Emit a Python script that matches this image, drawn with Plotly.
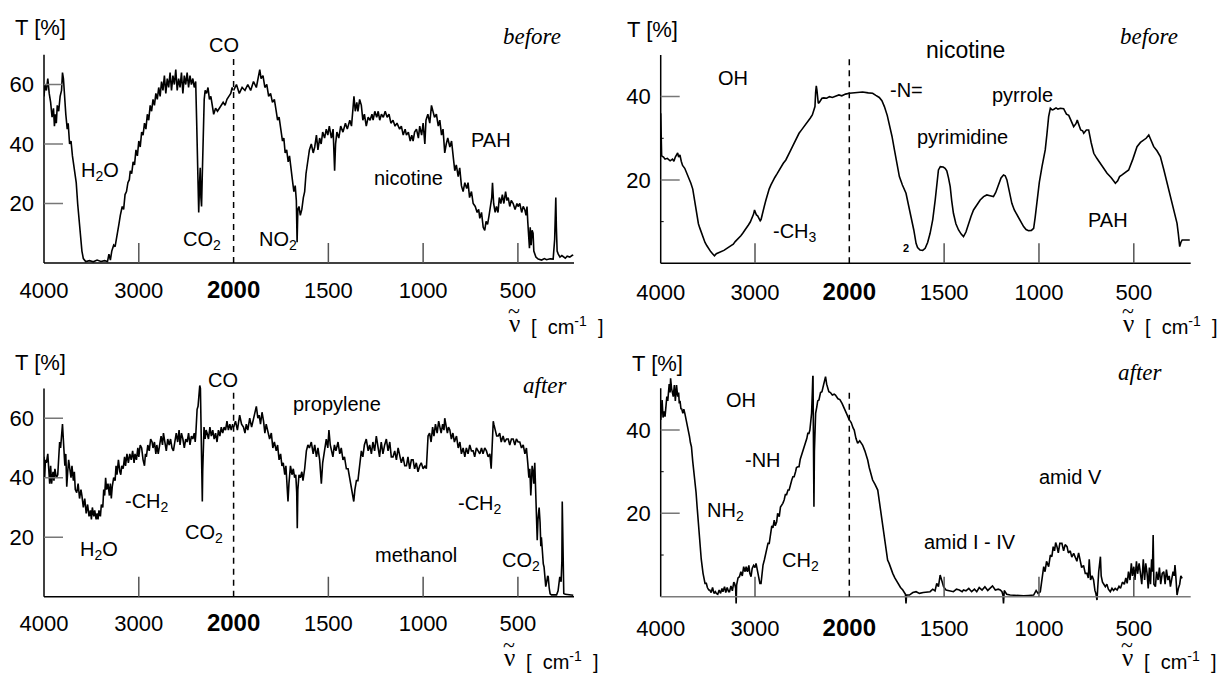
import plotly.graph_objects as go

# ---------------- data: (wavenumber cm-1, transmittance %) ----------------
before_blood_spectrum = [
(4000,56),(3990,60),(3975,58),(3960,62),(3945,57),(3930,54),(3915,49),(3900,52),(3890,46),(3880,50),(3870,47),(3860,53),
(3845,51),(3830,56),(3815,58),(3805,64),(3795,62),(3785,55),(3770,50),(3755,45),(3745,47),(3730,40),(3715,41),(3700,36),
(3680,31),(3660,27),(3645,20),(3630,14),(3615,8),(3600,4),(3585,1.5),(3560,0.5),(3520,0.8),(3480,0.4),(3440,1),(3400,0.5),
(3360,0.8),(3330,0.5),(3315,3),(3300,1),(3285,4),(3265,6),(3250,5.5),(3230,10),(3210,13),(3195,16),(3175,19),(3160,18),
(3145,23),(3130,24),(3115,27),(3100,28),(3090,31),(3075,30),(3060,34),(3045,33),(3030,38),(3015,36),(3000,41),(2985,39),
(2970,44),(2955,43),(2940,47),(2925,45),(2910,50),(2895,48),(2880,53),(2865,51),(2850,55),(2835,53),(2820,57),(2805,55),
(2790,59),(2775,56),(2760,61),(2745,58),(2730,63),(2715,57),(2700,62),(2685,59),(2670,64),(2655,58),(2640,63),(2625,60),
(2610,65),(2595,58),(2580,62),(2565,59),(2550,64),(2535,57),(2520,63),(2505,60),(2490,64),(2475,59),(2460,63),(2445,60),
(2430,62),(2415,59),(2400,61),(2390,48),(2382,35),(2375,20),(2368,17),(2360,26),(2352,32),(2345,22),(2338,19),(2330,30),
(2320,45),(2310,55),(2300,58),(2285,57),(2270,59),(2255,55),(2240,56),(2225,52),(2210,50),(2190,52),(2170,51),(2150,52),
(2130,53),(2110,54),(2090,53),(2070,55),(2050,56),(2030,57),(2015,59),(2000,58),
(1985,60),(1970,57),(1955,59),(1940,58),(1925,60),(1910,58),(1895,61),(1880,59),(1870,62),(1862,65),(1855,62),(1845,63),
(1835,59),(1825,60),(1815,56),(1805,57),(1795,54),(1785,55),(1775,51),(1768,48),(1760,49),(1750,44),(1742,41),(1735,42),
(1728,37),(1720,38),(1712,34),(1705,36),(1698,31),(1690,28),(1682,24),(1675,26),(1669,21),(1665,7),(1661,18),(1655,19),
(1648,16),(1640,18),(1632,22),(1625,24),(1618,30),(1610,33),(1600,38),(1590,40),(1580,37),(1572,39),(1563,43),(1555,38),
(1546,42),(1538,40),(1530,44),(1520,42),(1511,45),(1503,43),(1495,46),(1484,42),(1475,45),(1467,31),(1462,40),(1455,44),
(1445,42),(1435,46),(1423,44),(1410,47),(1400,45),(1387,48),(1378,46),(1370,52),(1365,56),(1358,51),(1350,54),(1344,51),
(1335,55),(1326,53),(1318,48),(1310,50),(1300,46),(1290,49),(1280,48),(1270,50),(1264,48),(1255,51),(1245,49),(1237,51),
(1229,48),(1220,50),(1210,49),(1200,51),(1190,49),(1180,50),(1170,47),(1159,48),(1148,46),(1138,47),(1124,45),(1115,46),
(1105,43),(1095,45),(1088,43),(1078,44),(1068,41),(1060,43),(1053,41),(1045,44),(1035,45),(1025,42),(1018,46),(1008,43),
(1000,47),(991,40),(985,48),(975,50),(965,47),(956,53),(948,51),(940,49),(930,50),(920,46),(912,48),(903,43),(895,45),
(886,37),(878,40),(870,42),(859,39),(850,41),(840,35),(833,31),(825,33),(815,29),(807,32),(798,26),(789,24),(780,27),
(770,25),(763,27),(755,22),(745,24),(736,20),(725,19),(715,17),(707,18),(701,15),(692,17),(683,12),(675,11),(668,14),
(660,13),(652,16),(645,19),(638,22),(634,27),(628,20),(620,17),(613,19),(605,17),(598,22),(590,20),(582,23),(574,20),
(565,24),(558,21),(551,22),(543,19),(535,21),(525,20),(515,18),(505,20),(499,19),(490,20),(480,17),(472,19),(464,18),
(457,16),(452,19),(448,14),(443,8),(439,5),(435,12),(430,6),(425,11),(420,10),(416,4),(411,3),(405,2),(393,1.3),(375,1),
(360,1.5),(349,1.1),(330,1.4),(314,1.3),(306,8),(302,18),(300,22),(297,12),(293,4),(287,3),(278,2),(268,2.5),(261,2.2),
(250,1.6),(240,2.3),(226,2),(215,2.5),(208,2.7)]

before_smoke_spectrum = [
(4000,36),(3997,27),(3990,25.8),(3970,25.5),(3954,25),(3930,25.2),(3900,24.6),(3875,25),(3860,24.5),(3845,25.5),(3832,26.2),
(3820,26.5),(3810,25.5),(3796,26),(3782,24.5),(3768,23.5),(3745,22.8),(3720,21.5),(3700,20.5),(3680,19.2),(3660,17.8),
(3645,15.5),(3630,13.2),(3615,11),(3600,9.5),(3586,8.5),(3565,7),(3545,5.8),(3530,5),(3510,4.2),(3490,3.4),(3470,2.8),
(3450,2.3),(3430,1.8),(3410,2.3),(3390,2.5),(3370,2.6),(3350,2.9),(3330,3.1),(3310,3.4),(3290,3.6),(3270,4),(3250,4.3),
(3230,4.6),(3210,5.2),(3190,5.6),(3170,6),(3150,6.6),(3130,7.2),(3110,7.8),(3090,8.5),(3070,9.2),(3050,9.9),(3030,10.8),
(3015,11.8),(3005,12.8),(2995,12.3),(2985,11.6),(2972,11.4),(2960,10.8),(2945,10.2),(2936,10.5),(2920,12.3),(2900,13.8),
(2884,15.2),(2865,16.8),(2850,17.8),(2831,18.8),(2810,19.8),(2790,20.6),(2765,21.5),(2743,22.4),(2720,23.2),(2700,24),
(2673,24.8),(2650,26),(2625,27),(2603,28),(2580,29.2),(2555,30.2),(2533,31.2),(2510,31.9),(2485,32.6),(2463,33.2),
(2440,34),(2415,34.8),(2392,35.6),(2378,36.4),(2364,37.6),(2357,41),(2350,42.6),(2343,41.5),(2336,39.5),(2329,38.4),
(2318,38.6),(2305,39.2),(2290,39.6),(2270,39.7),(2240,39.6),(2210,40),(2180,39.8),(2147,40.1),(2110,40.4),(2080,40.2),
(2040,40.6),(2000,40.8),
(1970,41),(1930,41.1),(1900,40.9),(1877,40.8),(1860,40.3),(1842,39.8),(1828,39),(1815,37.6),(1800,35.5),(1789,33.6),
(1775,30.5),(1762,27.2),(1749,23.8),(1736,20.8),(1720,18.8),(1701,16.8),(1688,14),(1674,11.2),(1660,8),(1648,4.8),
(1640,3.8),(1627,3.2),(1613,3.1),(1600,3.6),(1587,5),(1574,7.2),(1560,10.5),(1547,15.2),(1538,19.5),(1530,22.4),
(1520,23.2),(1505,23.1),(1495,22.8),(1486,22.2),(1477,20.5),(1468,18.4),(1460,15),(1451,12),(1438,9.5),(1424,8),
(1410,7),(1398,6.4),(1385,7.5),(1372,9.6),(1358,11.3),(1345,12.8),(1328,14),(1310,15.2),(1292,16),(1275,16.4),
(1258,16.2),(1240,16),(1228,17),(1213,18.8),(1200,20.5),(1187,21.2),(1178,21),(1169,20),(1156,17),(1143,14.4),
(1130,12.8),(1116,11.6),(1100,10.2),(1081,8.8),(1068,8.1),(1055,7.8),(1040,7.9),(1028,8.4),(1020,11),(1011,15.2),
(998,19.5),(984,23.2),(975,25.5),(967,27.2),(958,31),(949,35.2),(940,37.2),(930,36.8),(923,36.9),(910,37.3),(900,37),
(887,37.2),(870,37.1),(855,35.8),(843,35.5),(830,34),(817,32.8),(805,33.5),(798,34.4),(791,33.4),(780,32),(770,31.8),
(764,31.2),(750,32),(738,32),(725,29),(711,26.4),(695,25.2),(676,24),(660,22.8),(641,21.6),(620,20.6),(597,19.2),
(585,19.8),(575,20.8),(562,21.2),(545,21.7),(527,22.4),(505,25),(483,28),(465,29),(447,29.6),(435,30),(421,30.8),
(408,29.2),(395,28),(378,27),(360,25.6),(342,22.5),(325,19.2),(312,16.8),(298,14.4),(285,12),(272,9.6),(265,7),
(258,4),(252,5),(245,5.6),(230,5.6),(219,5.6),(205,5.6)]

after_blood_spectrum = [
(4000,47),(3993,40),(3985,46),(3975,45),(3960,48),(3950,42),(3940,38),(3930,44),(3920,38),(3905,42),(3895,39),(3885,43),
(3870,40),(3855,41),(3845,46),(3835,52),(3825,50),(3815,55),(3805,58),(3798,54),(3790,47),(3780,44),(3770,48),(3760,37),
(3750,42),(3740,46),(3728,43),(3715,40),(3705,44),(3690,39),(3680,42),(3670,36),(3655,35),(3640,38),(3625,33),(3610,36),
(3600,34),(3585,30),(3570,33),(3555,28),(3540,31),(3525,27),(3510,29),(3500,26),(3490,30),(3475,27),(3465,29),(3450,26),
(3440,28),(3430,26),(3420,29),(3405,27),(3395,31),(3380,30),(3370,36),(3360,34),(3350,40),(3340,36),(3325,38),(3310,34),
(3300,38),(3290,33),(3280,37),(3265,40),(3250,39),(3240,44),(3230,41),(3215,46),(3200,42),(3190,41),(3180,44),(3165,43),
(3150,47),(3140,44),(3125,48),(3110,45),(3095,48),(3080,46),(3065,49),(3050,45),(3040,48),(3025,46),(3010,50),(3000,47),
(2985,51),(2970,50),(2955,46),(2940,44),(2930,48),(2920,47),(2905,51),(2890,49),(2875,53),(2860,52),(2850,50),(2835,52),
(2820,48),(2810,51),(2795,48),(2780,52),(2765,54),(2750,51),(2740,55),(2725,52),(2710,49),(2695,53),(2680,51),(2665,53),
(2650,50),(2635,49),(2620,52),(2605,55),(2590,52),(2575,56),(2565,51),(2550,55),(2535,53),(2520,50),(2505,53),(2490,52),
(2475,55),(2460,51),(2445,54),(2430,53),(2415,55),(2405,52),(2398,55),(2390,60),(2385,63),(2375,64),(2365,68),(2357,71),
(2350,70),(2345,60),(2340,58),(2335,45),(2330,32),(2326,42),(2320,55),(2312,57),(2300,53),(2290,56),(2280,55),(2265,53),
(2250,57),(2235,54),(2220,56),(2205,53),(2190,55),(2175,52),(2160,56),(2145,54),(2130,57),(2115,55),(2100,57),(2085,56),
(2070,59),(2055,56),(2040,58),(2025,56),(2010,58),(2000,57),
(1990,59),(1980,56),(1968,61),(1958,58),(1948,57),(1940,55),(1933,58),(1925,56),(1915,60),(1905,57),(1898,59),(1890,62),
(1880,64),(1872,60),(1865,61),(1858,58),(1850,62),(1842,59),(1835,55),(1828,58),(1820,56),(1810,53),(1801,55),(1793,50),
(1785,52),(1775,49),(1768,51),(1760,46),(1752,48),(1745,44),(1738,45),(1730,41),(1724,44),(1718,38),(1713,32),(1708,38),
(1700,44),(1692,41),(1685,43),(1678,40),(1672,41),(1667,35),(1664,23),(1661,36),(1655,41),(1648,40),(1640,42),(1634,39),
(1625,43),(1616,49),(1608,51),(1600,50),(1590,52),(1580,48),(1572,51),(1563,47),(1555,50),(1546,46),(1537,38),(1530,45),
(1520,49),(1511,53),(1503,50),(1497,56),(1490,51),(1482,48),(1476,47),(1468,51),(1460,49),(1449,52),(1440,48),(1432,50),
(1423,46),(1415,47),(1405,43),(1396,43),(1388,40),(1379,37),(1372,34),(1366,32),(1360,36),(1352,39),(1344,39),(1335,45),
(1326,49),(1318,47),(1310,51),(1300,53),(1290,49),(1282,51),(1273,48),(1265,52),(1256,49),(1247,54),(1238,50),(1230,47),
(1221,52),(1212,48),(1203,51),(1194,53),(1185,49),(1176,52),(1168,47),(1159,47),(1150,49),(1141,46),(1132,50),(1124,48),
(1115,45),(1106,47),(1097,44),(1088,44),(1080,47),(1071,43),(1062,46),(1053,46),(1045,43),(1036,45),(1027,42),(1018,44),
(1010,45),(1000,43),(990,44),(983,43),(979,50),(974,54),(966,55),(958,52),(950,57),(943,54),(935,58),(926,55),(918,59),
(912,57),(905,55),(897,58),(890,56),(886,60),(880,57),(872,55),(866,57),(859,56),(851,53),(843,55),(835,52),(824,54),
(815,50),(806,52),(798,48),(789,50),(780,47),(772,50),(763,48),(754,51),(745,49),(736,49),(728,47),(719,50),(710,49),
(701,48),(692,50),(684,48),(675,50),(666,49),(657,47),(648,48),(641,43),(636,52),(630,59),(627,58),(620,56),(612,54),
(604,54),(596,55),(588,52),(578,54),(570,52),(560,53),(551,53),(543,51),(534,53),(525,53),(516,51),(508,53),(499,52),
(490,52),(481,50),(472,51),(463,48),(455,50),(448,45),(442,40),(437,43),(432,34),(428,39),(425,44),(420,42),(416,38),
(411,45),(406,32),(402,26),(398,19),(394,26),(388,30),(383,25),(379,17),(376,20),(372,15),(366,11),(362,10),(358,5),
(353,3.4),(348,5),(343,7),(340,6.7),(335,3),(330,1),(323,0.6),(310,0.6),(296,0.6),(288,2),(283,5),(279,6.7),(272,5),
(268,12),(266,32),(264,20),(261,3),(258,1.1),(250,0.8),(235,0.6),(220,0.6),(208,0.5)]

after_smoke_spectrum = [
(4000,42.4),(3995,45),(3985,47.2),(3975,43),(3965,44.5),(3954,43.2),(3945,46),(3935,48),(3925,47),(3919,49.6),(3910,51),
(3900,49),(3895,52.4),(3885,50),(3875,48),(3867,48),(3855,50.8),(3845,47),(3832,50.8),(3820,48),(3810,49),(3803,46.4),
(3795,47),(3785,45),(3779,45.2),(3765,44),(3755,45),(3744,44),(3730,42.4),(3720,41.5),(3709,40.8),(3695,38.5),(3685,37),
(3674,36),(3660,32.4),(3648,30),(3638,28.8),(3625,25),(3614,21.6),(3600,17),(3586,13.6),(3570,9),(3551,5.6),(3540,4.2),
(3530,3.2),(3516,3.2),(3505,2.2),(3490,1.6),(3480,1.6),(3465,1.0),(3450,2.2),(3435,0.8),(3420,1.2),(3410,0.8),(3395,0.6),
(3380,1.6),(3365,0.8),(3350,2),(3340,1.2),(3323,2.4),(3310,1),(3295,2.2),(3280,1.2),(3270,1.2),(3255,2.6),(3240,1.4),
(3225,3.5),(3217,3.2),(3205,2),(3200,-1.6),(3195,2.8),(3180,4.5),(3165,4.8),(3150,6),(3135,5),(3120,7.2),(3105,6),
(3094,7.2),(3080,6),(3065,7.5),(3055,5.6),(3042,4.8),(3030,6.8),(3015,7.5),(3000,7),(2989,8),(2975,6),(2960,4.5),
(2948,3.2),(2936,3.2),(2925,6),(2915,7.6),(2901,8.8),(2888,10),(2875,11),(2862,12.8),(2849,12.8),(2835,15),(2822,17),
(2810,16.5),(2796,18.4),(2785,17),(2770,18),(2760,20),(2743,19.2),(2730,21.5),(2715,22),(2705,22.4),(2691,23.2),
(2678,24.5),(2665,24.5),(2650,25.6),(2638,25.6),(2625,27),(2610,28),(2598,28.8),(2585,28.8),(2570,30),(2560,31),
(2545,31.2),(2533,31.2),(2520,33),(2505,34),(2493,35),(2480,36),(2465,37),(2450,38),(2440,39.2),(2428,39.2),(2418,40),
(2410,42.4),(2400,44),(2392,49),(2385,54.4),(2381,40),(2378,30),(2375,21.6),(2370,35),(2362,42),(2357,44),(2345,45.5),
(2335,47),(2322,47.2),(2305,49),(2290,49.2),(2275,51),(2262,52),(2252,52.8),(2240,51),(2230,50),(2217,49.2),(2200,49),
(2180,48.4),(2160,48.6),(2147,48.4),(2120,47.5),(2100,47.3),(2077,46.4),(2050,45.2),(2030,44),(2015,43.2),(2000,42.4),
(1990,41.8),(1980,40.5),(1974,40),(1965,38),(1956,36.8),(1945,37.4),(1930,36.4),(1918,35),(1910,34),(1903,32.8),
(1895,31),(1885,29.5),(1877,28),(1865,27),(1850,25.6),(1842,23),(1833,20),(1825,17),(1815,13.6),(1808,11),(1798,8.8),
(1790,8),(1780,6.5),(1771,5.6),(1760,4.5),(1745,3.2),(1730,2.2),(1718,1.6),(1710,1),(1704,0.6),(1701,-1.6),(1698,0.4),
(1683,0.4),(1665,1),(1648,1.2),(1630,0.8),(1610,1),(1590,1.2),(1574,1.2),(1560,1.8),(1548,1.4),(1539,3.2),(1530,2.4),
(1521,5.2),(1512,3.5),(1503,2.4),(1490,1.6),(1475,1.4),(1460,1.2),(1451,1.2),(1435,1.8),(1420,1.6),(1405,1.2),
(1398,1.6),(1385,1.4),(1370,2),(1355,1.2),(1340,1.8),(1328,1.2),(1315,2.2),(1300,1.6),(1285,2.4),(1270,1.5),(1257,2),
(1245,2.6),(1230,1.6),(1215,1.8),(1204,1.6),(1195,1.2),(1190,0.4),(1187,-1.6),(1183,1.5),(1170,0.6),(1152,0.4),
(1130,0.3),(1105,0.2),(1081,0.2),(1055,0.3),(1040,0.3),(1028,0.4),(1015,1.5),(1005,0.8),(993,1.2),(985,3.5),(975,7.2),
(968,6),(960,8.5),(949,7.2),(940,10),(932,9.6),(925,12),(918,11),(912,13),(905,12),(898,10.5),(890,12.8),(879,12.8),
(870,11),(862,12.5),(852,12),(845,10.5),(835,11),(827,9.5),(817,10.4),(808,9.5),(800,8.5),(791,10.5),(782,8),(775,7),
(765,7.5),(756,5.6),(747,5.6),(740,4.5),(735,9),(728,4),(720,5),(712,4),(705,1.5),(700,0.8),(694,-0.8),(690,3),(685,6),
(680,8),(676,9.6),(672,5),(665,3.5),(658,3),(650,2.4),(642,3),(634,1.8),(624,1.2),(615,2),(607,1.5),(598,2),(588,1.6),
(578,2.5),(570,2),(560,3.5),(550,3),(542,4.5),(535,3.2),(528,6),(520,4),(513,8),(507,5),(500,7.2),(494,4),(486,8.5),
(480,5.5),(472,8),(465,5.6),(458,3),(450,9),(443,4),(437,8),(430,5.6),(424,2),(418,7),(412,3),(406,9),(402,6),
(398,14.8),(394,3),(386,2.4),(380,6),(372,4),(365,7),(358,3),(350,5.6),(342,6),(335,3),(328,6.5),(320,4),(313,5),
(307,2.4),(300,4),(293,6),(287,5),(283,7.6),(280,6),(276,3),(272,0.4),(265,2),(258,3),(252,5),(245,4.4)]

x_ticks_high = [4000, 3000, 2000]
x_ticks_low = [1500, 1000, 500]
y_ticks_70 = [20, 40, 60]
y_ticks_50 = [20, 40]

# ---------------- layout helpers ----------------
W, H = 1221, 674
def px(x): return x / W
def py(y): return 1 - y / H

FONT = "Liberation Sans, Arial, sans-serif"
SERIF = "Liberation Serif, Times New Roman, serif"

panels = [
    dict(data=before_blood_spectrum, x0=44, xm=233.6, x1=574, xend=204, zero=263.0, s=2.975,
         yr=(-2.2, 72), ytop=70, yt=y_ticks_70, minor=[], dash_top=68.9, xcol="black"),
    dict(data=before_smoke_spectrum, x0=660.7, xm=849.3, x1=1190.7, xend=200, zero=263.3, s=4.167,
         yr=(-2.2, 52), ytop=50, yt=y_ticks_50, minor=[10, 30], dash_top=49.3, xcol="black"),
    dict(data=after_blood_spectrum, x0=44, xm=233.6, x1=574, xend=204, zero=596.7, s=2.975,
         yr=(-2.2, 72.5), ytop=70, yt=y_ticks_70, minor=[], dash_top=68.9, xcol="black"),
    dict(data=after_smoke_spectrum, x0=660.7, xm=849.3, x1=1190.7, xend=200, zero=596.7, s=4.167,
         yr=(-2.8, 53), ytop=50, yt=y_ticks_50, minor=[10, 30], dash_top=49.2, xcol="#7a7a7a"),
]

fig = go.Figure()
shapes = []
layout = {}
tickfont = dict(family=FONT, size=22, color="black")

for i, p in enumerate(panels):
    xa_l, xa_r, ya = 2 * i + 1, 2 * i + 2, i + 1
    xl = "x" if xa_l == 1 else f"x{xa_l}"
    xr = f"x{xa_r}"
    yy = "y" if ya == 1 else f"y{ya}"
    ybot = p["zero"] - p["yr"][0] * p["s"]
    ytopp = p["zero"] - p["yr"][1] * p["s"]
    layout["xaxis" if xa_l == 1 else f"xaxis{xa_l}"] = dict(
        domain=[px(p["x0"]), px(p["xm"])], range=[4000, 2000], anchor=yy,
        tickvals=x_ticks_high,
        ticktext=["4000", "3000", "<span style='font-size:24px'><b>2000</b></span>"],
        ticks="", showline=False, showgrid=False, zeroline=False, tickfont=tickfont,
        ticklabelstandoff=5, fixedrange=True, automargin=False)
    layout[f"xaxis{xa_r}"] = dict(
        domain=[px(p["xm"]), px(p["x1"])], range=[2000, p["xend"]], anchor=yy,
        tickvals=x_ticks_low, ticktext=[str(v) for v in x_ticks_low],
        ticks="", showline=False, showgrid=False, zeroline=False, tickfont=tickfont,
        ticklabelstandoff=5, fixedrange=True, automargin=False)
    layout["yaxis" if ya == 1 else f"yaxis{ya}"] = dict(
        domain=[py(ybot), py(ytopp)], range=list(p["yr"]), anchor=xl,
        tickvals=p["yt"], ticks="", showline=False, showgrid=False, zeroline=False,
        tickfont=tickfont, ticklabelstandoff=9, fixedrange=True, automargin=False)

    hi = [(a, b) for a, b in p["data"] if a >= 2000]
    lo = [(a, b) for a, b in p["data"] if a <= 2000]
    for seg, xref in ((hi, xl), (lo, xr)):
        fig.add_trace(go.Scatter(x=[a for a, b in seg], y=[b for a, b in seg], mode="lines",
                                 line=dict(color="black", width=1.6), xaxis=xref, yaxis=yy,
                                 hoverinfo="skip", showlegend=False))

    # axis lines
    shapes.append(dict(type="line", xref="paper", yref=yy, x0=px(p["x0"]), x1=px(p["x0"]), y0=0, y1=p["ytop"],
                       line=dict(color="black", width=1.5)))
    shapes.append(dict(type="line", xref="paper", yref=yy, x0=px(p["x0"]), x1=px(p["x1"]), y0=0, y1=0,
                       line=dict(color=p["xcol"], width=1.5)))
    # y ticks
    for v in p["yt"]:
        shapes.append(dict(type="line", xref="paper", yref=yy, x0=px(p["x0"]), x1=px(p["x0"] + 19), y0=v, y1=v,
                           line=dict(color="#777", width=1.5)))
    for v in p["minor"]:
        shapes.append(dict(type="line", xref="paper", yref=yy, x0=px(p["x0"]), x1=px(p["x0"] + 3), y0=v, y1=v,
                           line=dict(color="black", width=1)))
    # x ticks (inside)
    tl = 20 / p["s"]
    shapes.append(dict(type="line", xref=xl, yref=yy, x0=3000, x1=3000, y0=0, y1=tl,
                       line=dict(color="#555", width=1.5)))
    for v in x_ticks_low:
        shapes.append(dict(type="line", xref=xr, yref=yy, x0=v, x1=v, y0=0, y1=tl,
                           line=dict(color="#555", width=1.5)))
    # dashed 2000 marker
    shapes.append(dict(type="line", xref="paper", yref=yy, x0=px(p["xm"]), x1=px(p["xm"]), y0=0, y1=p["dash_top"],
                       line=dict(color="black", width=1.5, dash="6px,5px")))

# ---------------- annotations ----------------
def ann(text, x, y, size=20, family=FONT, xanchor="center"):
    return dict(text=text, x=px(x), y=py(y), xref="paper", yref="paper", showarrow=False,
                xanchor=xanchor, yanchor="middle", font=dict(family=family, size=size, color="black"))

def xtitle(nu_x, y):
    return [ann("\u03bd", nu_x, y - 3, 25, SERIF),
            ann("~", nu_x, y - 16, 22, SERIF),
            ann("[  cm<sup>-1</sup>  ]", nu_x + 15, y, 20, xanchor="left")]

annotations = [
    # top-left
    ann("T [%]", 40, 28, 22), ann("CO", 224, 45), ann("H<sub>2</sub>O", 100, 172),
    ann("CO<sub>2</sub>", 202, 240), ann("NO<sub>2</sub>", 278, 240), ann("nicotine", 408, 178),
    ann("PAH", 491, 140), ann("<i>before</i>", 532, 37, 23, SERIF),
    # top-right
    ann("T [%]", 652, 30, 22), ann("OH", 733, 78), ann("-CH<sub>3</sub>", 795, 232),
    ann("<b>2</b>", 906, 248, 11), ann("-N=", 906, 90), ann("nicotine", 965, 50, 23),
    ann("pyrrole", 1022, 95), ann("pyrimidine", 962, 137), ann("PAH", 1108, 220),
    ann("<i>before</i>", 1149, 37, 23, SERIF),
    # bottom-left
    ann("T [%]", 40, 362, 22), ann("CO", 223, 380), ann("propylene", 337, 404),
    ann("<i>after</i>", 545, 385, 23, SERIF), ann("-CH<sub>2</sub>", 147, 502),
    ann("H<sub>2</sub>O", 99, 550), ann("CO<sub>2</sub>", 204, 533), ann("-CH<sub>2</sub>", 480, 505),
    ann("methanol", 416, 555), ann("CO<sub>2</sub>", 521, 561),
    # bottom-right
    ann("T [%]", 657, 363, 22), ann("OH", 741, 400), ann("-NH", 763, 460),
    ann("NH<sub>2</sub>", 725, 511), ann("CH<sub>2</sub>", 800, 561), ann("amid V", 1070, 477),
    ann("amid I - IV", 970, 542), ann("<i>after</i>", 1140, 373, 23, SERIF),
]
annotations += xtitle(514, 326) + xtitle(1128, 326)
annotations += xtitle(509, 660) + xtitle(1127, 660)

fig.update_layout(**layout)
fig.update_layout(width=W, height=H, margin=dict(l=0, r=0, t=0, b=0, autoexpand=False), autosize=False,
                  paper_bgcolor="white", plot_bgcolor="white", shapes=shapes,
                  annotations=annotations, showlegend=False)
fig.write_html("out.html", config={"displayModeBar": False},
               post_script="document.body.style.margin='0';document.body.style.overflow='hidden';")
